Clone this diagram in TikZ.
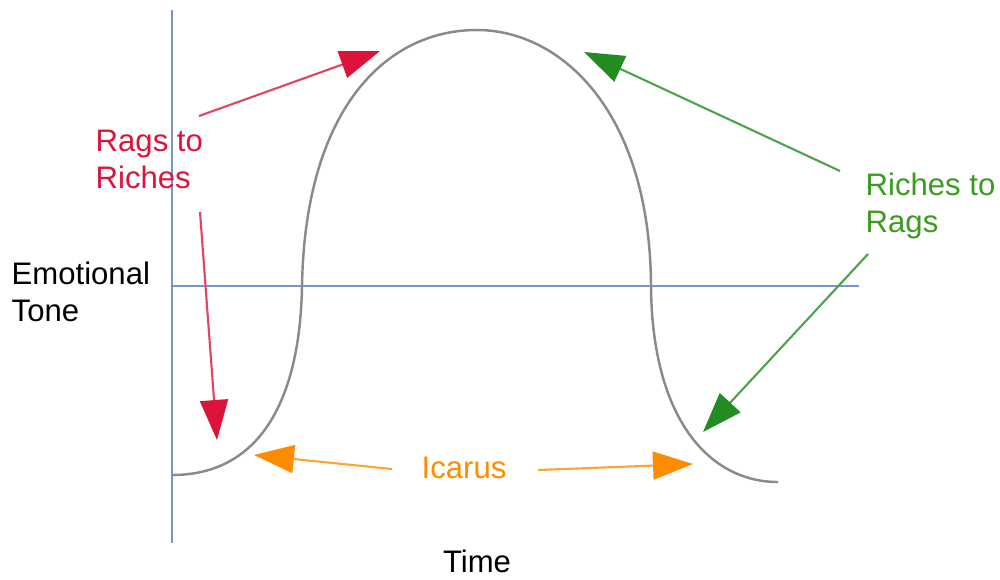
\documentclass[tikz,border=0pt]{standalone}
\usepackage{fontspec}
\setmainfont{Liberation Sans}
\definecolor{axisblue}{RGB}{116,150,200}
\definecolor{arcgray}{RGB}{135,138,145}
\definecolor{rags}{RGB}{220,20,60}
\definecolor{riches}{RGB}{34,139,34}
\definecolor{icarus}{RGB}{255,140,0}
\usetikzlibrary{arrows.meta}
\tikzset{
  axisline/.style={axisblue, line width=0.8pt},
  story/.style={arcgray, line width=0.7pt},
  word/.style={inner sep=0pt, align=left, font=\fontsize{8.85}{10.5}\selectfont},
  flow/.style={-{Triangle[length=4mm,width=2.8mm,color=#1]}, #1!80, line width=0.6pt},
}
\begin{document}
\begin{tikzpicture}
    \useasboundingbox (0,0) rectangle (10,5.79);
    % axes
    \coordinate (ytop) at (1.72,5.69);
    \coordinate (origin) at (1.72,0.36);
    \coordinate (xleft) at (1.72,2.93);
    \coordinate (xright) at (8.59,2.93);
    \draw[axisline] (origin) -- (ytop);
    \draw[axisline] (xleft) -- (xright);
    % the story arc
    \draw[story] (1.72,1.04) .. controls (2.60,1.04) and (3.00,1.79) .. (3.02,2.93)
      .. controls (3.05,4.69) and (3.85,5.49) .. (4.77,5.49)
      .. controls (5.60,5.49) and (6.50,4.69) .. (6.51,2.93)
      .. controls (6.52,1.59) and (7.10,0.97) .. (7.78,0.97);
    % labels (base = last line)
    \node[word,anchor=base west] (tone) at (0.11,2.58) {Emotional\\Tone};
    \node[word,anchor=base] (time) at (4.77,0.07) {Time};
    \node[word,anchor=base west,text=rags] (rise) at (0.95,3.91) {Rags to\\Riches};
    \node[word,anchor=base west,text=riches!85!lime] (fall) at (8.65,3.47) {Riches to\\Rags};
    \node[word,anchor=base,text=icarus] (icarus) at (4.64,1.01) {Icarus};
    % arrow ends
    \coordinate (riseA) at (1.99,4.63);
    \coordinate (riseAtip) at (3.80,5.28);
    \coordinate (riseB) at (2.00,3.67);
    \coordinate (riseBtip) at (2.17,1.39);
    \coordinate (fallA) at (8.40,4.08);
    \coordinate (fallAtip) at (5.84,5.27);
    \coordinate (fallB) at (8.68,3.25);
    \coordinate (fallBtip) at (7.03,1.47);
    \coordinate (icarusL) at (3.92,1.10);
    \coordinate (icarusLtip) at (2.54,1.24);
    \coordinate (icarusR) at (5.38,1.09);
    \coordinate (icarusRtip) at (6.93,1.15);
    \draw[flow=rags] (riseA) -- (riseAtip);
    \draw[flow=rags] (riseB) -- (riseBtip);
    \draw[flow=riches] (fallA) -- (fallAtip);
    \draw[flow=riches] (fallB) -- (fallBtip);
    \draw[flow=icarus] (icarusL) -- (icarusLtip);
    \draw[flow=icarus] (icarusR) -- (icarusRtip);
\end{tikzpicture}
\end{document}
